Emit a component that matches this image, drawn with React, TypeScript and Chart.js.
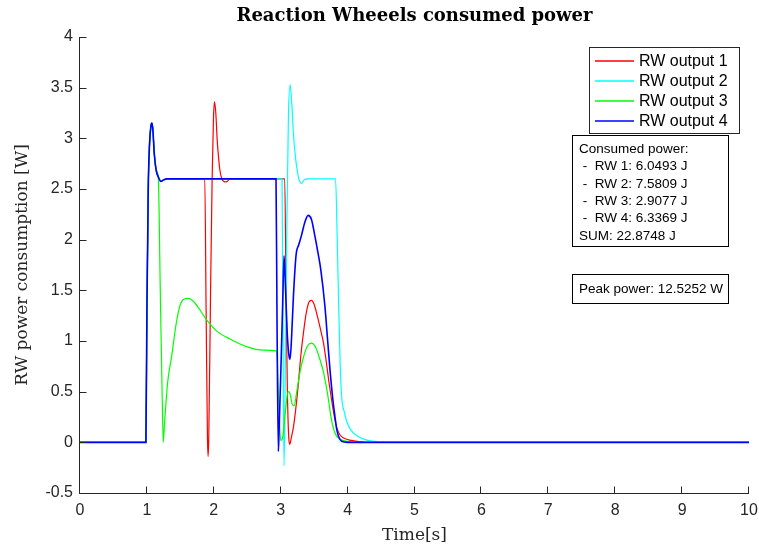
import React, { useEffect, useRef } from "react";
import { Chart, registerables } from "chart.js";

Chart.register(...registerables);

// ---------- data ----------
const titleText = "Reaction Wheeels consumed power";
const xLabelText = "Time[s]";
const yLabelText = "RW power consumption [W]";

const seriesLabels = ["RW output 1", "RW output 2", "RW output 3", "RW output 4"];
const seriesColors = ["#ff0000", "#00ffff", "#00ff00", "#0000ff"];

const xMin = 0;
const xMax = 10;
const xStep = 1;
const yMin = -0.5;
const yMax = 4;
const yStep = 0.5;

// shared start-up transient (all wheels)
const riseTime = [0, 0.985, 1.0, 1.02, 1.04, 1.06, 1.075, 1.09, 1.11, 1.14, 1.17];
const risePower = [0, 0, 1.3, 2.5, 2.95, 3.12, 3.15, 3.08, 2.85, 2.68, 2.62];

const rw1Time = [1.21, 1.25, 1.3, 1.865, 1.885, 1.905, 1.915, 1.925, 1.95, 1.975, 1.995, 2.01, 2.03, 2.05, 2.07, 2.09, 2.12, 2.15, 2.19, 2.24, 2.3, 3.06, 3.08, 3.1, 3.12, 3.135, 3.16, 3.19, 3.22, 3.26, 3.3, 3.34, 3.38, 3.42, 3.46, 3.5, 3.55, 3.6, 3.64, 3.68, 3.72, 3.76, 3.8, 3.84, 3.89, 3.95, 4.05, 4.2, 4.4, 10];
const rw1Power = [2.575, 2.59, 2.6, 2.6, 1.3, 0.05, -0.14, 0.05, 1.4, 2.6, 3.2, 3.36, 3.25, 2.99, 2.82, 2.69, 2.6, 2.575, 2.57, 2.6, 2.6, 2.6, 1.5, 0.5, 0.05, -0.02, 0.05, 0.15, 0.3, 0.55, 0.85, 1.08, 1.27, 1.38, 1.4, 1.36, 1.24, 1.1, 0.98, 0.8, 0.6, 0.42, 0.26, 0.14, 0.07, 0.04, 0.02, 0.005, 0, 0];

const rw2Time = [1.21, 1.25, 1.3, 3.02, 3.035, 3.05, 3.065, 3.09, 3.115, 3.14, 3.165, 3.19, 3.22, 3.25, 3.28, 3.31, 3.35, 3.4, 3.82, 3.845, 3.87, 3.89, 3.91, 3.95, 3.99, 4.05, 4.15, 4.3, 4.5, 4.7, 10];
const rw2Power = [2.575, 2.59, 2.6, 2.6, 1.0, -0.23, 0.5, 2.0, 3.2, 3.53, 3.35, 3.05, 2.82, 2.67, 2.58, 2.555, 2.59, 2.6, 2.6, 2.0, 1.25, 0.75, 0.46, 0.3, 0.2, 0.12, 0.06, 0.02, 0.005, 0, 0];

const rw3Time = [1.2, 1.23, 1.245, 1.26, 1.31, 1.37, 1.44, 1.495, 1.545, 1.62, 1.69, 1.79, 1.89, 2.04, 2.24, 2.49, 2.74, 2.94, 2.97, 3.0, 3.03, 3.07, 3.11, 3.14, 3.17, 3.2, 3.24, 3.29, 3.34, 3.4, 3.46, 3.52, 3.58, 3.64, 3.7, 3.76, 3.82, 3.89, 4.0, 4.2, 10];
const rw3Power = [1.5, 0.4, 0.0, 0.15, 0.59, 0.85, 1.18, 1.35, 1.41, 1.42, 1.395, 1.31, 1.21, 1.1, 1.02, 0.945, 0.91, 0.9, 0.4, 0.02, 0.05, 0.3, 0.5, 0.48, 0.38, 0.36, 0.5, 0.7, 0.84, 0.95, 0.98, 0.94, 0.83, 0.69, 0.48, 0.22, 0.08, 0.03, 0.01, 0, 0];

const rw4Time = [1.21, 1.25, 1.3, 2.93, 2.945, 2.965, 2.975, 3.0, 3.03, 3.05, 3.07, 3.1, 3.125, 3.14, 3.16, 3.19, 3.23, 3.27, 3.31, 3.36, 3.41, 3.46, 3.51, 3.56, 3.6, 3.66, 3.7, 3.74, 3.78, 3.81, 3.84, 3.87, 3.91, 4.0, 10];
const rw4Power = [2.575, 2.59, 2.6, 2.6, 1.2, -0.09, 0.1, 0.65, 1.38, 1.84, 1.55, 1.05, 0.85, 0.82, 1.0, 1.44, 1.85, 1.95, 2.04, 2.17, 2.24, 2.2, 2.04, 1.86, 1.7, 1.35, 1.02, 0.69, 0.42, 0.26, 0.12, 0.05, 0.01, 0, 0];

const wheelNames = ["RW 1", "RW 2", "RW 3", "RW 4"];
const wheelEnergy = ["6.0493", "7.5809", "2.9077", "6.3369"];
const energySum = "22.8748";
const peakPower = "12.5252";

// ---------- helpers ----------
function toPoints(t: number[], v: number[]) {
  const tt = riseTime.concat(t);
  const vv = risePower.concat(v);
  return tt.map((x, i) => ({ x, y: vv[i] }));
}

const seriesTimes = [rw1Time, rw2Time, rw3Time, rw4Time];
const seriesPowers = [rw1Power, rw2Power, rw3Power, rw4Power];

const AXIS = "#262626";
const SANS = "'Liberation Sans', Arial, sans-serif";
const SERIF = "'DejaVu Serif', serif";

const overlayPlugin = {
  id: "overlay",
  afterDraw(chart: any) {
    const ctx: CanvasRenderingContext2D = chart.ctx;
    const { left, right, top, bottom } = chart.chartArea;
    const xs = chart.scales.x;
    const ys = chart.scales.y;
    ctx.save();

    // axes lines + inward ticks
    ctx.strokeStyle = AXIS;
    ctx.lineWidth = 1;
    const L = Math.round(left) - 0.5;
    const B = Math.round(bottom) + 0.5;
    ctx.beginPath();
    ctx.moveTo(L, Math.round(top));
    ctx.lineTo(L, B);
    ctx.lineTo(Math.round(right), B);
    ys.ticks.forEach((t: any) => {
      const y = Math.round(ys.getPixelForValue(t.value)) + 0.5;
      ctx.moveTo(L, y);
      ctx.lineTo(L + 7, y);
    });
    xs.ticks.forEach((t: any) => {
      const x = Math.round(xs.getPixelForValue(t.value)) - 0.5;
      ctx.moveTo(x, B);
      ctx.lineTo(x, B - 7);
    });
    ctx.stroke();

    const cx = (left + right) / 2;
    const cy = (top + bottom) / 2;

    // title
    ctx.fillStyle = "#000";
    ctx.textAlign = "center";
    ctx.textBaseline = "alphabetic";
    ctx.font = `bold 18px ${SERIF}`;
    ctx.fillText(titleText, cx, 21);

    // x label
    ctx.fillStyle = AXIS;
    ctx.font = `17px ${SERIF}`;
    ctx.fillText(xLabelText, cx, 540);

    // y label
    ctx.save();
    ctx.translate(27, cy);
    ctx.rotate(-Math.PI / 2);
    ctx.fillText(yLabelText, 0, 0);
    ctx.restore();

    // legend
    const lgL = 589.5, lgT = 47.5, lgW = 150, lgH = 86;
    ctx.fillStyle = "#fff";
    ctx.fillRect(lgL, lgT, lgW, lgH);
    ctx.strokeStyle = AXIS;
    ctx.lineWidth = 1;
    ctx.strokeRect(lgL, lgT, lgW, lgH);
    ctx.font = `16px ${SANS}`;
    ctx.textAlign = "left";
    ctx.textBaseline = "middle";
    seriesLabels.forEach((lab, i) => {
      const y = 61 + i * 20;
      ctx.beginPath();
      ctx.strokeStyle = seriesColors[i];
      ctx.lineWidth = 1.4;
      ctx.moveTo(595, y);
      ctx.lineTo(634, y);
      ctx.stroke();
      ctx.fillStyle = "#000";
      ctx.fillText(lab, 639, y + 1);
    });

    // consumed power box
    ctx.strokeStyle = "#000";
    ctx.lineWidth = 1;
    ctx.fillStyle = "#fff";
    ctx.fillRect(572.5, 135.5, 156, 111);
    ctx.strokeRect(572.5, 135.5, 156, 111);
    ctx.fillStyle = "#000";
    ctx.font = `13.5px ${SANS}`;
    const lines = ["Consumed power:"]
      .concat(wheelNames.map((n, i) => ` -  ${n}: ${wheelEnergy[i]} J`))
      .concat([`SUM: ${energySum} J`]);
    lines.forEach((s, i) => {
      ctx.fillText(s, 579, 149 + i * 17.4);
    });

    // peak power box
    ctx.fillStyle = "#fff";
    ctx.fillRect(572.5, 274.5, 156, 29);
    ctx.strokeRect(572.5, 274.5, 156, 29);
    ctx.fillStyle = "#000";
    ctx.fillText(`Peak power: ${peakPower} W`, 579, 289.5);

    ctx.restore();
  },
};

export default function App() {
  const ref = useRef<HTMLCanvasElement | null>(null);

  useEffect(() => {
    if (!ref.current) return;
    const datasets = seriesLabels.map((label, i) => ({
      label,
      data: toPoints(seriesTimes[i], seriesPowers[i]),
      borderColor: seriesColors[i],
      backgroundColor: seriesColors[i],
      borderWidth: i === 3 ? 1.6 : 1.2,
      pointRadius: 0,
      pointHoverRadius: 0,
      fill: false,
      tension: 0,
      cubicInterpolationMode: "monotone" as const,
      order: 4 - i,
    }));

    const chart = new Chart(ref.current, {
      type: "line",
      data: { datasets },
      options: {
        responsive: false,
        animation: false,
        devicePixelRatio: 1,
        events: [],
        layout: {
          autoPadding: false,
          padding: { left: 0, right: 10, top: 37, bottom: 0 },
        },
        plugins: {
          legend: { display: false },
          title: { display: false },
          tooltip: { enabled: false },
        },
        scales: {
          x: {
            type: "linear",
            min: xMin,
            max: xMax,
            grid: { display: false, drawTicks: false },
            border: { display: false },
            ticks: {
              stepSize: xStep,
              autoSkip: false,
              maxRotation: 0,
              padding: 8,
              color: AXIS,
              font: { family: SANS, size: 16 },
              callback: (v: any) => String(Number(v)),
            },
            afterFit: (s: any) => {
              s.height = 57;
              s.paddingLeft = 0;
              s.paddingRight = 0;
            },
          },
          y: {
            type: "linear",
            min: yMin,
            max: yMax,
            grid: { display: false, drawTicks: false },
            border: { display: false },
            ticks: {
              stepSize: yStep,
              autoSkip: false,
              padding: 7,
              color: AXIS,
              font: { family: SANS, size: 16 },
              callback: (v: any) => String(Number(v)),
            },
            afterFit: (s: any) => {
              s.width = 80;
              s.paddingTop = 0;
              s.paddingBottom = 0;
            },
          },
        },
      },
      plugins: [overlayPlugin],
    });
    return () => chart.destroy();
  }, []);

  return (
    <div style={{ position: "absolute", left: 0, top: 0, width: 759, height: 550, background: "#fff" }}>
      <canvas ref={ref} width={759} height={550} style={{ display: "block" }} />
    </div>
  );
}
